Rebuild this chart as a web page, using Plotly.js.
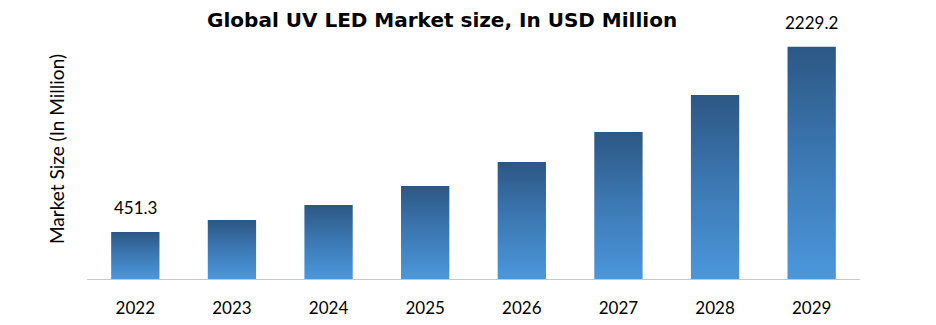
<!DOCTYPE html>
<html>
<head>
<meta charset="utf-8">
<script src="https://cdn.plot.ly/plotly-3.0.1.min.js"></script>
<style>html,body{margin:0;padding:0;background:#fff;}#chart{width:936px;height:325px;}</style>
</head>
<body>
<div id="chart"></div>
<script>
const years = ['2022','2023','2024','2025','2026','2027','2028','2029'];
const marketSize = [451.3, 566, 710, 893, 1123, 1411, 1766, 2229.2];
const labelledYears = ['2022','2029'];
const labelledValues = [451.3, 2229.2];
const labelText = ['451.3','2229.2'];

const trace = {
  type: 'bar',
  x: years,
  y: marketSize,
  width: 0.5,
  marker: {color: '#3d78b4', line: {width: 0}},
  hoverinfo: 'x+y'
};

const annotations = labelledYears.map((yr, i) => ({
  x: years.indexOf(yr), y: labelledValues[i], xref: 'x', yref: 'y',
  text: labelText[i], showarrow: false,
  yanchor: 'bottom', yshift: 12,
  font: {family: 'Lato, sans-serif', size: 17, color: '#000'}
}));

const layout = {
  width: 936, height: 325,
  margin: {l: 87, r: 76, t: 19, b: 46},
  paper_bgcolor: '#fff', plot_bgcolor: '#fff',
  showlegend: false,
  title: {
    text: 'Global UV LED Market size, In USD Million',
    font: {family: '"DejaVu Sans", sans-serif', size: 20, color: '#000', weight: 700},
    x: 430/936, xanchor: 'center', xref: 'paper',
    y: 1 - 20/325, yanchor: 'middle', yref: 'container'
  },
  xaxis: {
    type: 'category',
    range: [-0.5, years.length - 0.5],
    showline: true, linecolor: '#c8c8c8', linewidth: 1,
    showgrid: false, zeroline: false, ticks: '',
    ticklabelstandoff: 14,
    tickfont: {family: 'Lato, sans-serif', size: 17, color: '#000'}
  },
  yaxis: {
    range: [0, 2495],
    showgrid: false, zeroline: false, showline: false,
    showticklabels: false, ticks: '',
    title: {
      text: 'Market Size (In Million)',
      font: {family: 'Lato, sans-serif', size: 19, color: '#000'},
      standoff: 16
    }
  },
  annotations: annotations,
  bargap: 0.5
};

Plotly.newPlot('chart', [trace], layout, {displayModeBar: false, staticPlot: true}).then(gd => {
  const svg = gd.querySelector('svg.main-svg');
  const ns = 'http://www.w3.org/2000/svg';
  let defs = svg.querySelector('defs');
  if (!defs) { defs = document.createElementNS(ns, 'defs'); svg.insertBefore(defs, svg.firstChild); }
  const grad = document.createElementNS(ns, 'linearGradient');
  grad.setAttribute('id', 'barGrad');
  grad.setAttribute('x1', '0'); grad.setAttribute('y1', '0');
  grad.setAttribute('x2', '0'); grad.setAttribute('y2', '1');
  [['0', '#2c5784'], ['0.45', '#3b76b0'], ['1', '#4b97dc']].forEach(([o, c]) => {
    const s = document.createElementNS(ns, 'stop');
    s.setAttribute('offset', o); s.setAttribute('stop-color', c);
    grad.appendChild(s);
  });
  defs.appendChild(grad);
  gd.querySelectorAll('.trace.bars .point path').forEach(p => {
    p.style.fill = 'url(#barGrad)';
  });
});
</script>
</body>
</html>
